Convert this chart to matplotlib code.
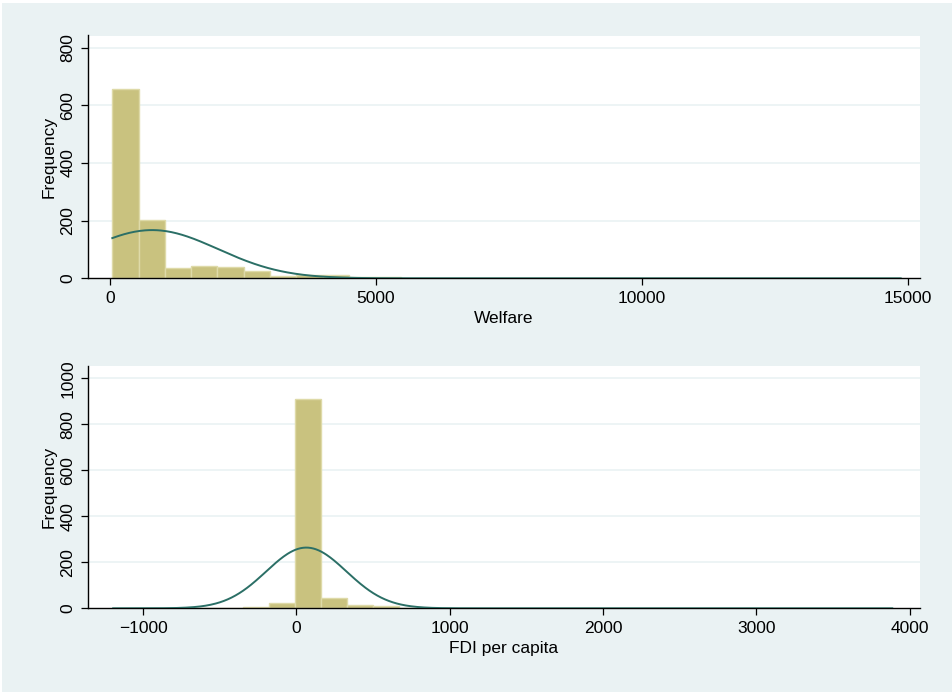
import numpy as np
import matplotlib
matplotlib.use("Agg")
import matplotlib.pyplot as plt
from matplotlib.patches import Rectangle

plt.rcParams['font.family'] = ['Liberation Sans', 'DejaVu Sans']

# Welfare histogram: 30 equal-width bins starting at the sample minimum
welfare_start = 43.0
welfare_binwidth = 494.0
welfare_counts = [655, 203, 36, 43, 39, 25, 9, 12, 12,
                  4, 3, 2, 1, 1, 1, 1, 0, 0, 1, 0, 0, 1, 0, 1, 0, 0, 0, 1, 0, 1]
welfare_mean = 790.0
welfare_sd = 1240.0
welfare_xticks = [0, 5000, 10000, 15000]
welfare_yticks = [0, 200, 400, 600, 800]

# FDI per capita histogram
fdi_start = -1195.0
fdi_binwidth = 169.4
fdi_counts = [1, 0, 0, 1, 2, 5, 23, 910, 46, 13, 10, 3, 2, 1, 1,
              1, 0, 1, 1, 0, 0, 0, 0, 1, 0, 0, 0, 0, 0, 1]
fdi_mean = 65.0
fdi_sd = 262.0
fdi_xticks = [-1000, 0, 1000, 2000, 3000, 4000]
fdi_yticks = [0, 200, 400, 600, 800, 1000]

BG = '#EAF2F3'
BAR = '#C9C27F'
BAR_EDGE = '#DEDAA8'
CURVE = '#2B6F66'
FS = 12.5

W, H = 953, 692
fig = plt.figure(figsize=(W / 100, H / 100), dpi=100)
fig.patch.set_facecolor('white')
fig.patches.append(Rectangle((2 / W, 0), 1, 1 - 3 / H, transform=fig.transFigure,
                             facecolor=BG, edgecolor='none', zorder=-10))


def panel(rect, start, bw, counts, mu, sd, xticks, yticks, xlim, ylim, xlabel):
    ax = fig.add_axes(rect)
    ax.set_facecolor('white')
    counts = np.asarray(counts, dtype=float)
    edges = start + bw * np.arange(len(counts) + 1)
    ax.bar(edges[:-1], counts, width=bw, align='edge', color=BAR,
           edgecolor=BAR_EDGE, linewidth=1.0, zorder=2)
    n = counts.sum()
    xs = np.linspace(edges[0], edges[-1], 600)
    dens = n * bw / (sd * np.sqrt(2 * np.pi)) * np.exp(-0.5 * ((xs - mu) / sd) ** 2)
    ax.plot(xs, dens, color=CURVE, lw=1.4, zorder=3)
    ax.set_xlim(*xlim)
    ax.set_ylim(*ylim)
    ax.set_xticks(xticks)
    ax.set_xticklabels([f"{t}".replace('-', '\u2212') for t in xticks], fontsize=FS)
    ax.set_yticks(yticks)
    ax.set_yticklabels([str(t) for t in yticks], fontsize=FS, rotation=90, va='center')
    for t in yticks[1:]:
        ax.axhline(t, color=BG, lw=1.2, zorder=1)
    for s in ('top', 'right'):
        ax.spines[s].set_visible(False)
    for s in ('left', 'bottom'):
        ax.spines[s].set_color('black')
        ax.spines[s].set_linewidth(1.0)
    ax.tick_params(axis='both', direction='out', length=5, width=0.9, color='black', pad=4)
    ax.set_xlabel(xlabel, fontsize=FS, labelpad=4)
    ax.set_ylabel('Frequency', fontsize=FS, labelpad=3)
    return ax


left = 88 / W
width = (920 - 88) / W

panel([left, 1 - 278.3 / H, width, (278.3 - 35.5) / H],
      welfare_start, welfare_binwidth, welfare_counts, welfare_mean, welfare_sd,
      welfare_xticks, welfare_yticks, (-414, 15226), (0, 842), 'Welfare')

panel([left, 1 - 608.3 / H, width, (608.3 - 366) / H],
      fdi_start, fdi_binwidth, fdi_counts, fdi_mean, fdi_sd,
      fdi_xticks, fdi_yticks, (-1359, 4068), (0, 1053), 'FDI per capita')

fig.savefig('out.png', dpi=100, facecolor=fig.get_facecolor())
